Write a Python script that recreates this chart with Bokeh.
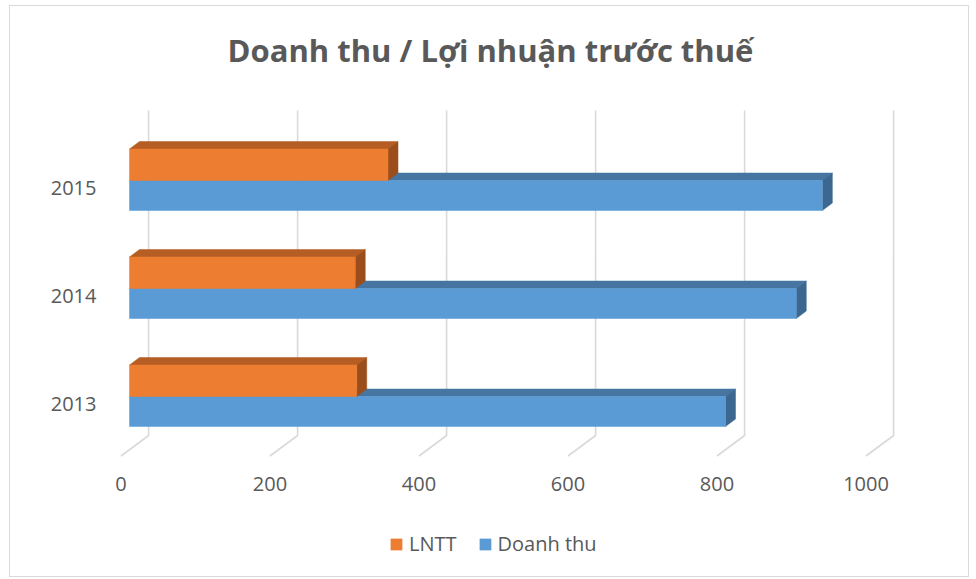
from bokeh.plotting import figure
from bokeh.models import Range1d, FixedTicker, Legend, LegendItem, Label
from bokeh.embed import file_html
from bokeh.resources import INLINE

# ---------------- data ----------------
years = ["2013", "2014", "2015"]
doanh_thu = [800, 895, 930]
lntt = [305, 303, 347]
x_ticks = [0, 200, 400, 600, 800, 1000]
title_text = "Doanh thu / Lợi nhuận trước thuế"
series_names = ["LNTT", "Doanh thu"]

# ---------------- style / geometry ----------------
FONT = "Open Sans"
TXT = "#595959"
PX_X = 0.745   # px per value unit (front plane)
PX_Y = 108.0   # px per category step

OX, OY = 10, 6        # page position of the figure content (after margin + border)
W, H = 960, 572
AX_LEFT, AX_BOT = 110, 460   # page position where the axes are drawn
ZERO_X = 120.5       # page x of value 0 on the front plane
CAT0_Y = 403         # page y of first category


def ux(px):
    return px / PX_X


def uy(px):
    return px / PX_Y


BAR_X0 = ux(8.5)                      # bar front face offset from axis zero
DEP_X, DEP_Y = ux(10), uy(7.5)        # bar depth offset
GRID_DX, GRID_DY = ux(27.6), uy(20.5)  # floor depth offset
GRID_TOP = uy(CAT0_Y - 110)
GRID_BOT = -uy(435 - CAT0_Y)

p = figure(width=W, height=H, output_backend="svg", toolbar_location=None,
           x_range=Range1d(-ux(ZERO_X - OX), ux(OX + W - ZERO_X)),
           y_range=Range1d(-uy(OY + H - CAT0_Y), uy(CAT0_Y - OY)),
           min_border_left=0, min_border_right=0,
           min_border_top=0, min_border_bottom=0)

p.outline_line_color = None
p.xgrid.visible = False
p.ygrid.visible = False
p.styles = {"border": "1px solid #D9D9D9", "margin": "5px 0 0 9px"}

# 3D gridlines (floor edge + back wall)
gx, gy = [], []
for t in x_ticks:
    gx.append([t, t + GRID_DX, t + GRID_DX])
    gy.append([GRID_BOT - GRID_DY, GRID_BOT, GRID_TOP])
p.multi_line(gx, gy, line_color="#D9D9D9", line_width=1.6)

# bar geometry relative to category position
LN_TOP, LN_BOT = uy(38.5), uy(7)
DT_TOP, DT_BOT = uy(7), -uy(23)

colors = {
    "LNTT": ("#ED7D31", "#B55D22", "#9B4E1B"),
    "Doanh thu": ("#5B9BD5", "#4675A2", "#3C6790"),
}


def draw(values, top_off, bot_off, cols):
    front, topc, side = cols
    lefts, rights, tops, bots = [], [], [], []
    txs, tys, sxs, sys_ = [], [], [], []
    for i, v in enumerate(values):
        x0 = BAR_X0
        x1 = BAR_X0 + v
        yt = i + top_off
        yb = i + bot_off
        lefts.append(x0); rights.append(x1); tops.append(yt); bots.append(yb)
        txs.append([x0, x1, x1 + DEP_X, x0 + DEP_X])
        tys.append([yt, yt, yt + DEP_Y, yt + DEP_Y])
        sxs.append([x1, x1 + DEP_X, x1 + DEP_X, x1])
        sys_.append([yt, yt + DEP_Y, yb + DEP_Y, yb])
    p.patches(txs, tys, fill_color=topc, line_color=topc, line_width=0.5)
    p.patches(sxs, sys_, fill_color=side, line_color=side, line_width=0.5)
    r = p.quad(left=lefts, right=rights, top=tops, bottom=bots,
               fill_color=front, line_color=front, line_width=0.5)
    return r


r_dt = draw(doanh_thu, DT_TOP, DT_BOT, colors["Doanh thu"])
r_ln = draw(lntt, LN_TOP, LN_BOT, colors["LNTT"])

# axes (drawn at fixed positions inside the plot area)
p.xaxis.ticker = FixedTicker(ticks=x_ticks)
p.yaxis.ticker = FixedTicker(ticks=list(range(len(years))))
p.yaxis.major_label_overrides = {i: y for i, y in enumerate(years)}
p.xaxis.fixed_location = -uy(AX_BOT - CAT0_Y)
p.yaxis.fixed_location = -ux(ZERO_X - AX_LEFT)
for ax in (p.xaxis[0], p.yaxis[0]):
    ax.axis_line_color = None
    ax.major_tick_line_color = None
    ax.minor_tick_line_color = None
    ax.major_label_text_font = FONT
    ax.major_label_text_font_size = "20px"
    ax.major_label_text_color = TXT
p.xaxis.major_label_standoff = 10
p.yaxis.major_label_standoff = 8

# title
title = Label(x=490 - OX, y=OY + H - 49, x_units="screen", y_units="screen",
              text=title_text, text_align="center", text_baseline="alphabetic",
              text_font=FONT, text_font_size="31px", text_font_style="bold",
              text_color=TXT)
p.add_layout(title)

legend = Legend(items=[LegendItem(label=series_names[0], renderers=[r_ln]),
                       LegendItem(label=series_names[1], renderers=[r_dt])],
                orientation="horizontal", location=(389 - OX, 21),
                glyph_width=14, glyph_height=14, label_standoff=6, spacing=21,
                label_text_font=FONT, label_text_font_size="20px", label_text_color=TXT,
                border_line_color=None, background_fill_alpha=0, padding=0, margin=0)
p.add_layout(legend)

open("out.html", "w").write(file_html(p, INLINE))
